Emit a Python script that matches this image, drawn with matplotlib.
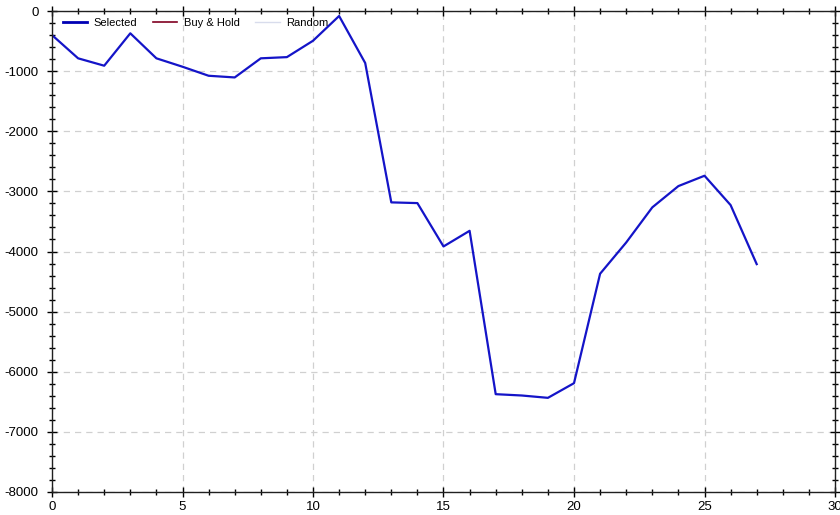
import matplotlib
matplotlib.use("Agg")
import matplotlib.pyplot as plt
from matplotlib.ticker import MultipleLocator

plt.rcParams['font.family'] = ['Liberation Sans', 'DejaVu Sans']
plt.rcParams['axes.unicode_minus'] = False

x_vals = list(range(28))
selected = [-400, -787, -910, -371, -787, -927, -1077, -1105, -787, -767,
            -495, -83, -865, -3183, -3195, -3916, -3656, -6373, -6395, -6434,
            -6190, -4370, -3850, -3266, -2912, -2740, -3228, -4210]

fig = plt.figure(figsize=(8.4, 5.15), dpi=100)
ax = fig.add_axes([52/840, 23/515, (835-52)/840, (492-11)/515])

ax.plot([], [], color="#0000b4", lw=2.0, label="Selected")
ax.plot([], [], color="#800020", lw=1.2, label="Buy & Hold")
ax.plot([], [], color="#d8dcec", lw=1.0, label="Random")
ax.plot(x_vals, selected, color="#1414c8", lw=1.6)

ax.set_xlim(0, 30)
ax.set_ylim(-8000, 0)
ax.xaxis.set_major_locator(MultipleLocator(5))
ax.xaxis.set_minor_locator(MultipleLocator(1))
ax.yaxis.set_major_locator(MultipleLocator(1000))
ax.yaxis.set_minor_locator(MultipleLocator(200))
ax.tick_params(which='both', direction='inout', top=True, right=True,
               labelsize=9.5, colors='black', width=1)
ax.tick_params(which='major', length=7)
ax.tick_params(which='minor', length=5)
ax.tick_params(axis='x', pad=3)
ax.tick_params(axis='y', pad=6)
ax.grid(True, which='major', color='#d0d0d0', linestyle=(0, (5, 4)), lw=0.9)
for s in ax.spines.values():
    s.set_color('#202020')
    s.set_linewidth(1)

ax.legend(loc='upper left', ncol=3, frameon=False, fontsize=8,
          handlelength=2.2, handletextpad=0.6, columnspacing=1.4,
          borderaxespad=0.2, bbox_to_anchor=(0.005, 1.0))

fig.savefig("out.png", dpi=100)
